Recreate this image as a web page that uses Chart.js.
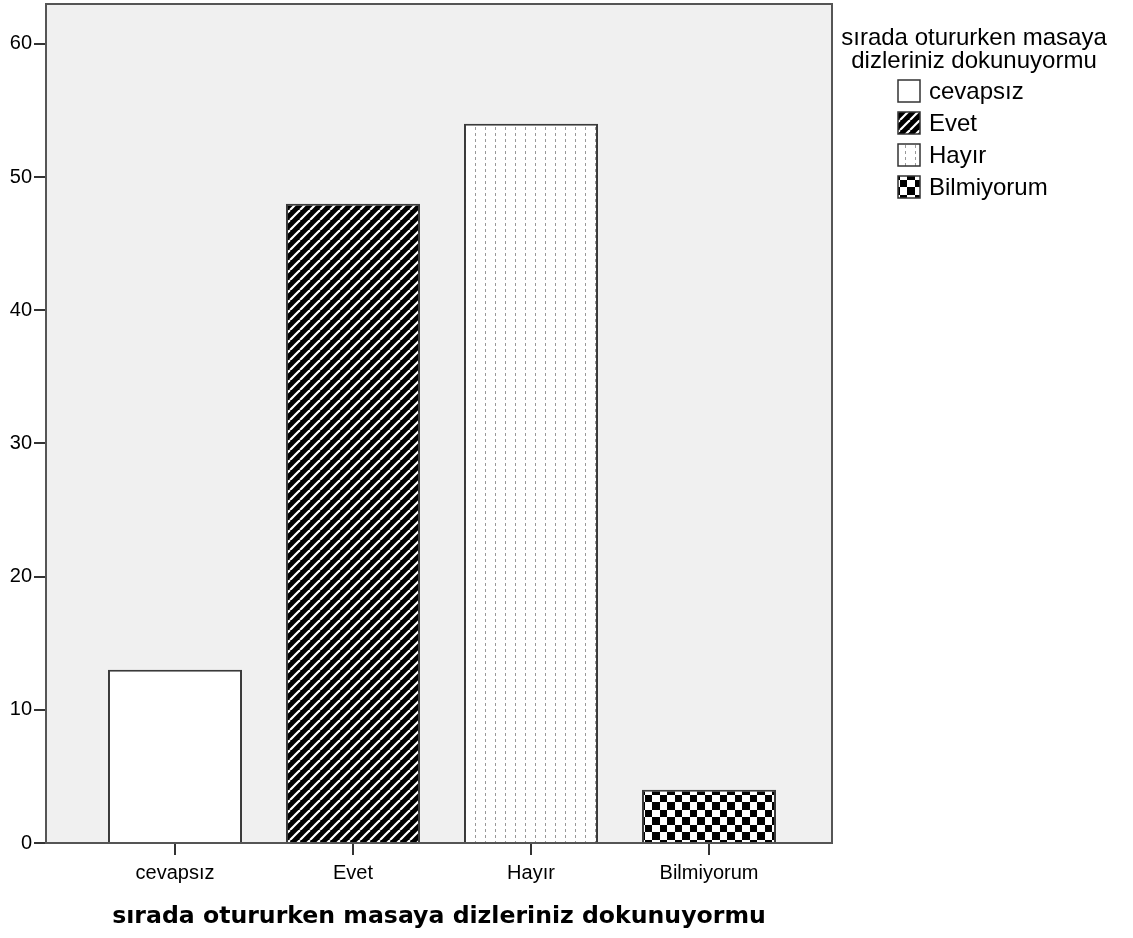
<!DOCTYPE html>
<html><head><meta charset="utf-8">
<script src="https://cdn.jsdelivr.net/npm/chart.js@4/dist/chart.umd.min.js"></script>
<style>html,body{margin:0;padding:0;background:#fff}#wrap{width:1133px;height:938px}</style>
</head><body><div id="wrap"><canvas id="c" width="1133" height="938"></canvas></div>
<script>
const categories = ["cevapsız", "Evet", "Hayır", "Bilmiyorum"];
const counts = [13, 48, 54, 4];
const yTicks = [0, 10, 20, 30, 40, 50, 60];
const axisTitle = "sırada otururken masaya dizleriniz dokunuyormu";
const legendTitle = ["sırada otururken masaya", "dizleriniz dokunuyormu"];

const FONT = "'Liberation Sans', Arial, sans-serif";

function tile(w, h, draw) {
  const c = document.createElement('canvas'); c.width = w; c.height = h;
  const g = c.getContext('2d'); draw(g, w, h);
  return document.createElement('canvas').getContext('2d').createPattern(c, 'repeat');
}
const pWhite = '#ffffff';
const pDiag = tile(10, 10, (g, w, h) => {
  g.fillStyle = '#000'; g.fillRect(0, 0, w, h);
  g.strokeStyle = '#fff'; g.lineWidth = 2.2;
  for (let o = -w; o <= w; o += w) { g.beginPath(); g.moveTo(o, h); g.lineTo(o + w, 0); g.stroke(); }
});
const pDots = tile(10, 6, (g, w, h) => {
  g.fillStyle = '#fff'; g.fillRect(0, 0, w, h);
  g.fillStyle = '#999'; g.fillRect(5, 1, 1, 3);
});
const pCheck = tile(15, 15, (g, w, h) => {
  g.fillStyle = '#fff'; g.fillRect(0, 0, w, h);
  g.fillStyle = '#000'; g.fillRect(0, 0, 7, 7); g.fillRect(7, 7, 8, 8);
});
const fills = [pWhite, pDiag, pDots, pCheck];

const framePlugin = {
  id: 'frame',
  beforeDraw(chart) {
    const a = chart.chartArea, ctx = chart.ctx;
    ctx.save(); ctx.fillStyle = '#f0f0f0';
    ctx.fillRect(a.left, a.top, a.right - a.left, a.bottom - a.top);
    ctx.restore();
  },
  afterDraw(chart) {
    const a = chart.chartArea, ctx = chart.ctx;
    ctx.save(); ctx.strokeStyle = '#555'; ctx.lineWidth = 2;
    ctx.strokeRect(a.left, a.top, a.right - a.left, a.bottom - a.top);
    ctx.restore();
    // legend
    ctx.save();
    ctx.fillStyle = '#000'; ctx.font = '24px ' + FONT; ctx.textBaseline = 'middle';
    ctx.textAlign = 'center';
    ctx.fillText(legendTitle[0], 974, 38);
    ctx.fillText(legendTitle[1], 974, 61);
    ctx.textAlign = 'left';
    categories.forEach((cat, i) => {
      const y = 91 + i * 32;
      ctx.fillStyle = fills[i]; ctx.fillRect(898, y - 11, 22, 22);
      ctx.strokeStyle = '#333'; ctx.lineWidth = 1.5; ctx.strokeRect(898, y - 11, 22, 22);
      ctx.fillStyle = '#000'; ctx.fillText(cat, 929, y + 1);
    });
    ctx.restore();
  }
};

new Chart(document.getElementById('c'), {
  type: 'bar',
  data: {
    datasets: [{
      data: categories.map((c, i) => ({ x: i, y: counts[i] })),
      backgroundColor: fills,
      borderColor: '#3a3a3a',
      borderWidth: 2,
      categoryPercentage: 1,
      barPercentage: 0.753
    }]
  },
  options: {
    responsive: false, animation: false, devicePixelRatio: 1,
    layout: { padding: { top: 4, right: 301, left: 0, bottom: 0 } },
    plugins: { legend: { display: false }, tooltip: { enabled: false } },
    scales: {
      x: {
        type: 'linear', min: -0.7247, max: 3.691, offset: false,
        afterBuildTicks: s => { s.ticks = categories.map((c, i) => ({ value: i })); },
        afterFit: s => { s.height = 95; s.paddingLeft = 0; s.paddingRight = 0; },
        ticks: { callback: v => categories[v], color: '#000', font: { size: 20, family: FONT }, padding: 6, maxRotation: 0, autoSkip: false },
        grid: { offset: false, drawOnChartArea: false, drawTicks: true, tickLength: 12, color: '#333', lineWidth: 2 },
        border: { display: true, color: '#222', width: 2 },
        title: { display: true, text: axisTitle, color: '#000', font: { size: 23.6, weight: 'bold', family: "'DejaVu Sans', sans-serif" }, padding: { top: 0, bottom: 7 } }
      },
      y: {
        min: 0, max: 63,
        afterBuildTicks: s => { s.ticks = yTicks.map(v => ({ value: v })); },
        afterFit: s => { s.width = 46; s.paddingTop = 0; s.paddingBottom = 0; },
        ticks: { color: '#000', font: { size: 20, family: FONT }, padding: 2 },
        grid: { drawOnChartArea: false, drawTicks: true, tickLength: 12, color: '#333', lineWidth: 2 },
        border: { display: true, color: '#222', width: 2 }
      }
    }
  },
  plugins: [framePlugin]
});
</script></body></html>
